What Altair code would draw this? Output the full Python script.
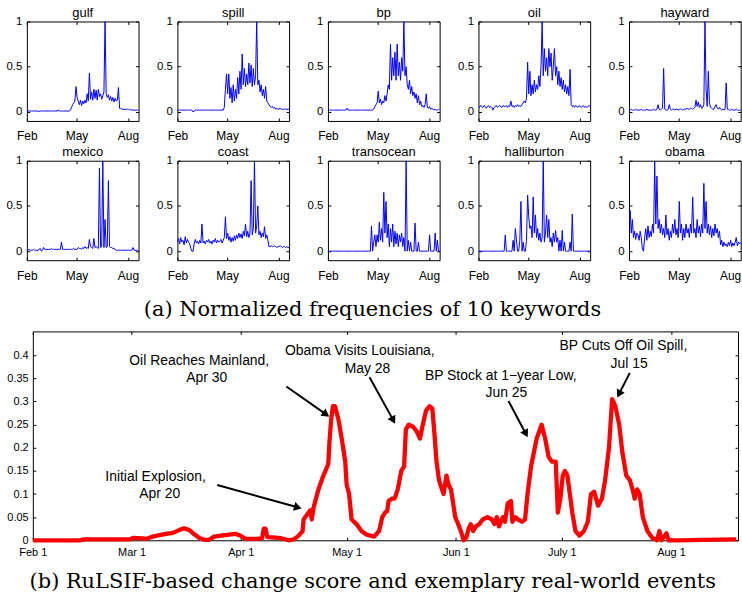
import math
import altair as alt
import pandas as pd

# ---------------- data ----------------
DAYS = list(range(0, 201, 2))  # days after Feb 1, 2010

gulf = [0.01]*11 + [0.005] + [0.01]*16 + [0.02] + [0.01]*10 + [
    0.02, 0.05, 0.08, 0.1, 0.12, 0.28, 0.16, 0.12, 0.08, 0.13, 0.07, 0.12, 0.09, 0.13, 0.1,
    0.2, 0.12, 0.43, 0.14, 0.22, 0.13, 0.25, 0.15, 0.24, 0.13, 0.25, 0.17, 0.2, 0.14, 0.18,
    0.22, 1.0, 0.2, 0.16, 0.19, 0.13, 0.17, 0.12, 0.16, 0.11, 0.15, 0.12, 0.13, 0.27, 0.04,
    0.04, 0.03, 0.03, 0.03, 0.025, 0.03, 0.03, 0.025, 0.03, 0.02, 0.025, 0.02, 0.02, 0.02,
    0.02, 0.02, 0.02]

spill = [0.02]*14 + [0.0, 0.01] + [0.02]*26 + [
    0.05, 0.25, 0.42, 0.2, 0.42, 0.15, 0.27, 0.1, 0.3, 0.12, 0.25, 0.15, 0.38, 0.2, 0.45,
    0.25, 0.64, 0.3, 0.48, 0.28, 0.42, 0.3, 0.54, 0.32, 0.52, 0.28, 0.48, 0.3, 0.4, 1.0,
    0.3, 0.35, 0.22, 0.3, 0.18, 0.25, 0.15, 0.28, 0.12, 0.1, 0.08, 0.06, 0.05, 0.06, 0.04,
    0.05, 0.03, 0.04, 0.03, 0.03, 0.04, 0.03, 0.03, 0.03, 0.03, 0.03, 0.03, 0.03, 0.03]

bp = [0.02]*17 + [0.04, 0.02] + [0.02]*22 + [
    0.03, 0.06, 0.08, 0.1, 0.23, 0.1, 0.14, 0.08, 0.12, 0.1, 0.18, 0.12, 0.2, 0.3, 0.25,
    0.75, 0.35, 0.6, 0.4, 0.66, 0.35, 0.75, 0.4, 0.55, 0.35, 0.6, 0.45, 1.0, 0.4, 0.5,
    0.3, 0.25, 0.35, 0.2, 0.28, 0.18, 0.22, 0.15, 0.2, 0.1, 0.18, 0.08, 0.12, 0.06, 0.07,
    0.05, 0.08, 0.2, 0.05, 0.04, 0.06, 0.03, 0.04,
    0.03, 0.02, 0.03, 0.02, 0.02, 0.03, 0.02]

oil = [0.06, 0.05, 0.07, 0.06, 0.05, 0.07, 0.06, 0.04, 0.06, 0.07, 0.05, 0.06, 0.05,
       0.02, 0.05,
       0.06, 0.07, 0.05, 0.06, 0.07, 0.06, 0.05, 0.07, 0.06, 0.06, 0.07, 0.05, 0.07, 0.06,
       0.12,
       0.06, 0.07, 0.05, 0.07, 0.06, 0.08, 0.06, 0.07, 0.06,
       0.08, 0.1, 0.12, 0.1, 0.15, 0.55, 0.2, 0.45, 0.18, 0.3, 0.2, 0.35, 0.22, 0.3, 0.25,
       0.4, 0.28, 0.5, 1.0, 0.4, 0.7, 0.45, 0.6, 0.4, 0.7, 0.5, 0.65, 0.35, 0.5, 0.7, 0.4,
       0.5, 0.3, 0.45, 0.28, 0.38, 0.25, 0.35, 0.22, 0.3, 0.2, 0.28, 0.18, 0.47, 0.08, 0.06,
       0.07, 0.05, 0.07, 0.06, 0.05, 0.07, 0.06, 0.05, 0.06, 0.07, 0.05, 0.06, 0.05, 0.06,
       0.07, 0.06]

hayward = [0.02, 0.02, 0.03, 0.02, 0.02, 0.02, 0.03, 0.02, 0.02, 0.02, 0.02, 0.03, 0.02,
           0.02, 0.02, 0.02, 0.03, 0.02, 0.02, 0.02, 0.02, 0.02, 0.03, 0.02, 0.02, 0.03,
           0.08, 0.03, 0.02, 0.03, 0.04, 0.48, 0.03, 0.02, 0.02, 0.03, 0.08, 0.03,
           0.02, 0.03, 0.03, 0.02, 0.03, 0.03, 0.02, 0.03, 0.03, 0.03, 0.02, 0.03, 0.03,
           0.03, 0.04, 0.03, 0.03, 0.04, 0.04, 0.03, 0.04,
           0.05, 0.13, 0.06, 0.11, 0.05, 0.08, 0.04, 0.05, 0.08, 1.0, 0.25, 0.06, 0.45, 0.1,
           0.05, 0.04, 0.03, 0.03, 0.06, 0.08, 0.04, 0.03, 0.05, 0.03, 0.02, 0.03, 0.02,
           0.03, 0.32, 0.03,
           0.03, 0.02, 0.02, 0.03, 0.02, 0.02, 0.02, 0.03, 0.02, 0.02, 0.02, 0.02]

mexico = [0.01, 0.01, 0.02, 0.01, 0.01, 0.01, 0.02, 0.01, 0.01, 0.01, 0.01, 0.02,
          0.03, 0.0, 0.01, 0.04] + [0.02]*6 + [0.03] + [0.02]*8 + [0.1] + [
          0.02, 0.02, 0.02, 0.02, 0.02, 0.02, 0.02, 0.02, 0.02, 0.02, 0.03, 0.02, 0.02, 0.02,
          0.04, 0.03, 0.03, 0.02, 0.04, 0.03, 0.05, 0.03, 0.04, 0.03, 0.13, 0.05, 0.04, 0.03,
          0.14, 0.04, 0.05, 0.04, 0.03, 0.92, 0.04, 0.05, 1.0, 0.04, 0.35, 0.04, 0.05, 0.78,
          0.05, 0.04, 0.04, 0.03, 0.03, 0.02,
          0.01, 0.01, 0.01, 0.01, 0.01, 0.01, 0.01, 0.01, 0.01, 0.01, 0.01, 0.01, 0.01, 0.01,
          0.01, 0.04, 0.01, 0.01, 0.01, 0.01, 0.01]

coast = [0.1, 0.14, 0.08, 0.15, 0.1, 0.12, 0.07, 0.16, 0.09, 0.13, 0.1, 0.08,
         0.03, 0.0, 0.0, 0.08, 0.13, 0.09, 0.11, 0.08, 0.12, 0.09, 0.3,
         0.09, 0.11, 0.08, 0.12, 0.1, 0.13, 0.09, 0.11, 0.08, 0.12, 0.1, 0.14, 0.09, 0.12,
         0.1, 0.11, 0.13, 0.09, 0.12,
         0.15, 0.38, 0.14, 0.2, 0.12, 0.16, 0.1, 0.15, 0.11, 0.17, 0.12, 0.18, 0.14, 0.2,
         0.15, 0.19, 0.14, 0.22, 0.17, 0.3, 0.16, 0.22, 0.15, 0.2, 0.78, 0.18, 0.25, 1.0,
         0.2, 0.28, 0.5, 0.18, 0.22, 0.15, 0.2, 0.16, 0.27, 0.14, 0.18, 0.12, 0.05,
         0.05, 0.06, 0.05, 0.05, 0.06, 0.05, 0.04, 0.05, 0.05, 0.06, 0.05, 0.04, 0.05, 0.05,
         0.04, 0.05, 0.04, 0.04]

transocean = [0.0]*39 + [
    0.28, 0.0, 0.1, 0.18, 0.05, 0.18, 0.1, 0.32, 0.12, 0.25, 0.1, 0.65, 0.2, 0.55, 0.15,
    0.3, 0.05, 0.25, 0.1, 0.3, 0.05, 0.22, 0.08, 0.2, 0.05, 0.18, 0.1, 0.2, 0.05, 0.15,
    0.0, 1.0, 0.0, 0.12, 0.0, 0.1, 0.0, 0.0, 0.0, 0.31, 0.0, 0.0, 0.1] + [0.0]*9 + [
    0.18, 0.0, 0.0, 0.0, 0.0, 0.2, 0.0, 0.12, 0.0, 0.0]

halliburton = [0.0]*24 + [0.18] + [0.0]*6 + [
    0.12, 0.0, 0.25, 0.13, 0.0, 0.0, 0.12, 0.55, 0.0, 0.1, 0.0, 0.0, 0.12, 0.62, 0.38,
    0.25, 0.28, 0.15, 0.6, 0.2, 0.4, 0.15, 0.25, 0.12, 0.2, 0.1, 0.15, 1.0, 0.1, 0.2,
    0.4, 0.15, 0.35, 0.1, 0.15, 0.05, 0.2, 0.1, 0.23, 0.1, 0.15, 0.0, 0.12, 0.0, 0.23,
    0.0, 0.1, 0.0, 0.0, 0.0, 0.0, 0.1, 0.0, 0.41, 0.0] + [0.0]*15

obama = [0.3, 0.45, 0.2, 0.35, 0.15, 0.22, 0.13, 0.2, 0.18, 0.12, 0.22, 0.15, 0.02, 0.0,
         0.15, 0.25, 0.12, 0.28, 0.15, 0.22, 0.16, 0.3, 0.2, 1.0, 0.3, 0.83, 0.25, 0.35,
         0.2, 0.3, 0.18, 0.25, 0.15, 0.4, 0.18, 0.25, 0.12, 0.22, 0.15, 0.3, 0.2, 0.35,
         0.18, 0.25, 0.15, 0.55, 0.2, 0.3, 0.12, 0.25, 0.15, 0.3, 0.2, 0.25, 0.15, 0.3,
         0.2, 0.6, 0.2, 0.25, 0.15, 0.35, 0.2, 0.28, 0.16, 0.3, 0.2, 0.75, 0.25, 0.55, 0.2,
         0.3, 0.18, 0.28, 0.15, 0.25, 0.17, 0.3, 0.2, 0.25, 0.15, 0.22, 0.07, 0.12, 0.05,
         0.1, 0.06, 0.08, 0.05, 0.1, 0.06, 0.12, 0.05, 0.09, 0.06, 0.1, 0.15, 0.06, 0.1,
         0.08, 0.1]

KEYWORDS = ["gulf", "spill", "bp", "oil", "hayward",
            "mexico", "coast", "transocean", "halliburton", "obama"]
SERIES = [gulf, spill, bp, oil, hayward, mexico, coast, transocean, halliburton, obama]

SMALL_XTICKS = [0, 89, 181]
SMALL_XLABELS = ["Feb", "May", "Aug"]
SMALL_YTICKS = [0, 0.5, 1]

# change score (days after Feb 1, score)
SCORE_DAY = [0, 13.3, 14.5, 20, 27.5, 28.4, 31.2, 32.1, 34.0, 35.9, 37.8, 39.7, 41.5, 42.9,
             44.4, 45.8, 47.2, 48.6, 50.0, 51.4, 53.3, 55.6, 57.5, 58.9, 60.3, 63.2, 65.0,
             65.5, 66.0, 66.5, 68.8, 70.7, 72.6, 74.0, 75.4, 76.5, 76.8, 77.7, 78.7, 79.1,
             79.6, 81.0, 82.4, 83.8, 84.1, 84.6, 85.1, 85.7, 86.7, 87.6, 88.6, 89.0, 89.7,
             90.4, 91.8, 93.2, 94.7, 96.8, 98.2, 99.1, 99.9, 100.5, 100.9, 101.8, 102.6,
             103.5, 104.5, 105.3, 105.8, 106.6, 107.9, 108.9, 109.8, 110.6, 111.5, 112.5,
             113.3, 113.8, 114.5, 115.2, 115.8, 116.5, 117.3, 117.9, 118.6, 119.2, 119.8,
             120.9, 121.6, 122.2, 122.9, 123.6, 124.2, 124.9, 125.6, 126.6, 127.6, 128.9,
             130.2, 130.9, 131.6, 132.2, 133.3, 133.9, 134.7, 135.6, 136.0, 136.9, 137.6,
             138.7, 139.6, 140.3, 141.3, 142.9, 144.3, 145.3, 146.3, 147.2, 148.3, 148.9,
             149.6, 150.3, 150.9, 151.6, 152.3, 153.0, 153.9, 155.0, 156.3, 157.4, 158.3,
             159.2, 160.3, 161.4, 162.3, 163.4, 164.3, 165.2, 166.3, 167.2, 168.3, 169.3,
             170.1, 170.7, 171.4, 172.1, 173.0, 174.3, 175.7, 177.0, 177.7, 178.3, 179.7,
             180.3, 183.0, 190.0, 199.5]
SCORE_VAL = [0.0, 0.0, 0.002, 0.002, 0.002, 0.005, 0.004, 0.003, 0.008, 0.011, 0.014, 0.016,
             0.022, 0.026, 0.022, 0.013, 0.005, 0.001, 0.001, 0.008, 0.01, 0.012, 0.014,
             0.01, 0.003, 0.003, 0.004, 0.025, 0.025, 0.007, 0.006, 0.004, 0.0, 0.002, 0.01,
             0.02, 0.045, 0.055, 0.065, 0.045, 0.07, 0.11, 0.14, 0.165, 0.21, 0.26, 0.29,
             0.29, 0.26, 0.22, 0.17, 0.12, 0.1, 0.045, 0.035, 0.02, 0.012, 0.008, 0.02, 0.05,
             0.06, 0.063, 0.085, 0.09, 0.09, 0.11, 0.15, 0.16, 0.24, 0.25, 0.245, 0.235,
             0.22, 0.25, 0.28, 0.29, 0.285, 0.24, 0.17, 0.13, 0.115, 0.1, 0.14, 0.12, 0.11,
             0.08, 0.05, 0.03, 0.015, 0.0, 0.005, 0.025, 0.035, 0.02, 0.03, 0.035, 0.045,
             0.05, 0.045, 0.035, 0.05, 0.03, 0.05, 0.04, 0.08, 0.085, 0.04, 0.05, 0.045,
             0.04, 0.045, 0.1, 0.16, 0.22, 0.25, 0.22, 0.18, 0.17, 0.17, 0.06, 0.09, 0.14,
             0.15, 0.14, 0.1, 0.06, 0.02, 0.01, 0.02, 0.04, 0.1, 0.105, 0.075, 0.09, 0.13,
             0.2, 0.305, 0.29, 0.25, 0.19, 0.14, 0.13, 0.11, 0.09, 0.11, 0.1, 0.05, 0.02,
             0.005, 0.0, 0.02, 0.0, 0.015, 0.0, 0.0, 0.001, 0.002]

MAIN_XTICKS = [0, 28, 59, 89, 120, 150, 181]
MAIN_XLABELS = ["Feb 1", "Mar 1", "Apr 1", "May 1", "Jun 1", "July 1", "Aug 1"]
MAIN_YTICKS = [0, 0.05, 0.1, 0.15, 0.2, 0.25, 0.3, 0.35, 0.4]

ANN_TEXT = ["Initial Explosion,", "Apr 20",
            "Oil Reaches Mainland,", "Apr 30",
            "Obama Visits Louisiana,", "May 28",
            "BP Stock at 1\u2212year Low,", "Jun 25",
            "BP Cuts Off Oil Spill,", "Jul 15"]
ANN_DAY = [34.8, 36.0, 47.2, 49.3, 92.75, 94.9, 132.7, 134.3, 167.5, 169.1]
ANN_VAL = [0.136, 0.0996, 0.387, 0.3505, 0.4086, 0.3705, 0.3561, 0.3183, 0.4193, 0.3813]

ARROW_FROM_DAY = [52.3, 71.9, 95.5, 134.9, 169.3]
ARROW_FROM_VAL = [0.1196, 0.3325, 0.3527, 0.3011, 0.3619]
ARROW_TO_DAY = [75.9, 83.8, 102.6, 140.2, 165.9]
ARROW_TO_VAL = [0.0695, 0.2688, 0.2544, 0.225, 0.311]

CAPTION_A = "(a) Normalized frequencies of 10 keywords"
CAPTION_B = "(b) RuLSIF-based change score and exemplary real-world events"

# ---------------- styles ----------------
SANS = "Liberation Sans"
SERIF = "DejaVu Serif"
PW, PH = 112.3, 100
MW, MH = 709, 210
XMAX = 200
YMAX = 0.4516


def label_expr(vals, labels):
    expr = "''"
    for v, l in reversed(list(zip(vals, labels))):
        expr = f"datum.value == {v} ? '{l}' : ({expr})"
    return expr


def inner_ticks(orient, values):
    # tick-only axis drawn inside the frame (opposite sides of the box)
    return alt.Axis(orient=orient, values=values, labels=False, title=None, grid=False,
                    domain=False, offset=-3, tickSize=3, tickColor="black")


def panel(name, vals):
    df = pd.DataFrame({"day": DAYS, "v": vals})
    xs = alt.Scale(domain=[0, XMAX], nice=False, zero=False)
    ys = alt.Scale(domain=[-0.1, 1], nice=False, zero=False)
    line = alt.Chart(df).mark_line(color="#0000ff", strokeWidth=1, clip=True).encode(
        x=alt.X("day:Q", scale=xs,
                axis=alt.Axis(values=SMALL_XTICKS,
                              labelExpr=label_expr(SMALL_XTICKS, SMALL_XLABELS),
                              title=None, grid=False, domain=False, offset=-3,
                              tickSize=3, tickColor="black", labelPadding=10,
                              labelFlush=False, labelOverlap=False, labelFont=SANS,
                              labelFontSize=12, labelColor="black")),
        y=alt.Y("v:Q", scale=ys,
                axis=alt.Axis(values=SMALL_YTICKS, format="~g", title=None, grid=False,
                              domain=False, offset=-3, tickSize=3, tickColor="black",
                              labelPadding=5, labelFlush=False, labelOverlap=False,
                              labelFont=SANS, labelFontSize=11.5, labelColor="black")),
    )
    ghost = alt.Chart(df).mark_line(opacity=0).encode(
        x=alt.X("day:Q", scale=xs, axis=inner_ticks("top", SMALL_XTICKS)),
        y=alt.Y("v:Q", scale=ys, axis=inner_ticks("right", SMALL_YTICKS)),
    )
    return alt.layer(line, ghost).resolve_axis(x="independent", y="independent").properties(
        width=PW, height=PH,
        title=alt.TitleParams(name, font=SANS, fontSize=13, fontWeight="normal",
                              color="black", offset=-4, anchor="middle", frame="group"),
    )


panels = [panel(n, s) for n, s in zip(KEYWORDS, SERIES)]
row1 = alt.hconcat(*panels[:5], spacing=38.35, bounds="flush")
row2 = alt.hconcat(*panels[5:], spacing=38.35, bounds="flush")
# nested concat groups count as zero-height under flush bounds,
# so the spacing here is the offset between row tops
top = alt.vconcat(row1, row2, spacing=140, bounds="flush")

# ---------------- main chart ----------------
xs_main = alt.Scale(domain=[0, XMAX], nice=False, zero=False)
ys_main = alt.Scale(domain=[0, YMAX], nice=False, zero=False)
x_main = alt.X("day:Q", scale=xs_main,
               axis=alt.Axis(values=MAIN_XTICKS,
                             labelExpr=label_expr(MAIN_XTICKS, MAIN_XLABELS),
                             title=CAPTION_B, titleFont=SERIF, titleFontSize=21,
                             titleFontWeight="normal", titleColor="black",
                             titleX=341.3, titleY=44, titleAlign="center",
                             titleBaseline="middle", grid=False, domain=False,
                             offset=-3, tickSize=3, tickColor="black", labelPadding=6,
                             labelFlush=False, labelOverlap=False, labelFont=SANS,
                             labelFontSize=11, labelColor="black"))
y_main = alt.Y("val:Q", scale=ys_main,
               axis=alt.Axis(values=MAIN_YTICKS, format="~g", title=None, grid=False,
                             domain=False, offset=-3, tickSize=3, tickColor="black",
                             labelPadding=4.7, labelFlush=False, labelOverlap=False,
                             labelFont=SANS, labelFontSize=11, labelColor="black"))

score_df = pd.DataFrame({"day": SCORE_DAY, "val": SCORE_VAL})
score = alt.Chart(score_df).mark_line(color="#ff0000", strokeWidth=4.3,
                                      strokeJoin="round").encode(x=x_main, y=y_main)

ann_df = pd.DataFrame({"day": ANN_DAY, "val": ANN_VAL, "txt": ANN_TEXT})
ann = alt.Chart(ann_df).mark_text(font=SANS, fontSize=14, color="black", align="center",
                                  baseline="middle").encode(x=x_main, y=y_main,
                                                            text="txt:N")

# arrow shafts and heads
HEAD_BACK = 4.0
shaft_rows, head_rows = [], []
for i in range(len(ARROW_FROM_DAY)):
    x0, y0 = ARROW_FROM_DAY[i], ARROW_FROM_VAL[i]
    x1, y1 = ARROW_TO_DAY[i], ARROW_TO_VAL[i]
    dxp = (x1 - x0) * MW / XMAX
    dyp = -(y1 - y0) * MH / YMAX
    L = math.hypot(dxp, dyp)
    ux, uy = dxp / L, dyp / L
    hx = x1 - HEAD_BACK * ux * XMAX / MW
    hy = y1 + HEAD_BACK * uy * YMAX / MH
    ang = math.degrees(math.atan2(dxp, -dyp)) % 360
    shaft_rows.append({"id": i, "day": x0, "val": y0})
    shaft_rows.append({"id": i, "day": hx, "val": hy})
    head_rows.append({"day": hx, "val": hy, "ang": ang})

shafts = alt.Chart(pd.DataFrame(shaft_rows)).mark_line(color="black", strokeWidth=2).encode(
    x=x_main, y=y_main, detail="id:N")
heads = alt.Chart(pd.DataFrame(head_rows)).mark_point(
    shape="triangle", filled=True, color="black", size=80, opacity=1).encode(
    x=x_main, y=y_main, angle=alt.Angle("ang:Q", scale=None))

main_ghost = alt.Chart(score_df).mark_line(opacity=0).encode(
    x=alt.X("day:Q", scale=xs_main, axis=inner_ticks("top", MAIN_XTICKS)),
    y=alt.Y("val:Q", scale=ys_main, axis=inner_ticks("right", MAIN_YTICKS)),
)

main = alt.layer(
    alt.layer(score, shafts, heads, ann), main_ghost
).resolve_axis(x="independent", y="independent").properties(
    width=MW, height=MH,
    title=alt.TitleParams(CAPTION_A, font=SERIF, fontSize=21, fontWeight="normal",
                          color="black", anchor="middle", baseline="middle",
                          frame="group", offset=-0.4, dx=-13),
)

spacer = alt.Chart(pd.DataFrame({"a": [0]})).mark_point(opacity=0).encode(
    x=alt.value(0), y=alt.value(0)).properties(
    width=1, height=MH, view=alt.ViewBackground(stroke="transparent"))

bottom = alt.hconcat(spacer, main, spacing=5, bounds="flush")

chart = alt.vconcat(top, bottom, spacing=311.6, bounds="flush").properties(
    padding={"left": 5, "top": 4, "right": 0, "bottom": 0},
    background="white",
).configure_view(stroke="black", strokeWidth=1)

chart.save("out.html", embed_options={"renderer": "svg", "actions": False})
